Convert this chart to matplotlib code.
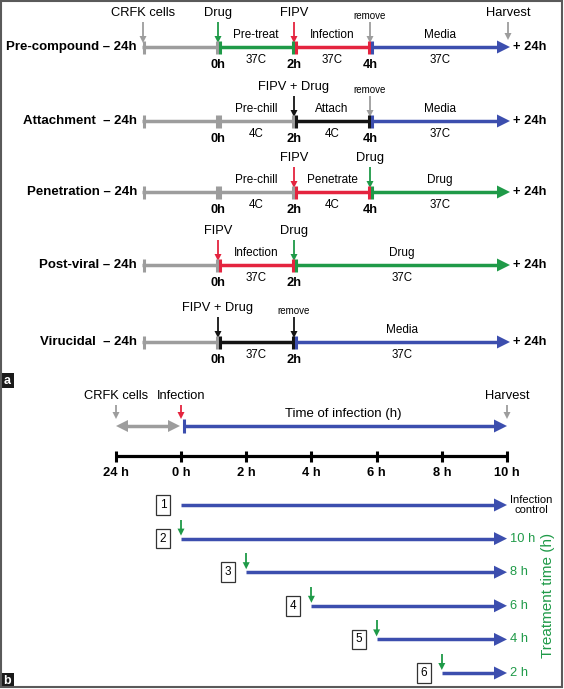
import numpy as np
import matplotlib
matplotlib.use("Agg")
import matplotlib.pyplot as plt
from matplotlib.patches import Polygon, Rectangle

plt.rcParams['font.family'] = ['Liberation Sans', 'DejaVu Sans']

# colours for each kind of step
colours = {"cells": "#9d9d9d", "chill": "#9d9d9d", "drug": "#1f9a48", "virus": "#e4243f",
           "media": "#3c4eae", "mix": "#141414"}

# ---- panel a : the five protocols ----
protocols = ["Pre-compound", "Attachment", "Penetration", "Post-viral", "Virucidal"]
# (start h, end h, kind, label above, label below)
segments = [
    [(-24, 0, "cells", "", ""), (0, 2, "drug", "Pre-treat", "37C"), (2, 4, "virus", "Infection", "37C"), (4, 24, "media", "Media", "37C")],
    [(-24, 0, "cells", "", ""), (0, 2, "chill", "Pre-chill", "4C"), (2, 4, "mix", "Attach", "4C"), (4, 24, "media", "Media", "37C")],
    [(-24, 0, "cells", "", ""), (0, 2, "chill", "Pre-chill", "4C"), (2, 4, "virus", "Penetrate", "4C"), (4, 24, "drug", "Drug", "37C")],
    [(-24, 0, "cells", "", ""), (0, 2, "virus", "Infection", "37C"), (2, 24, "drug", "Drug", "37C")],
    [(-24, 0, "cells", "", ""), (0, 2, "mix", "", "37C"), (2, 24, "media", "Media", "37C")],
]
# (time h, label, kind)
events = [
    [(-24, "CRFK cells", "cells"), (0, "Drug", "drug"), (2, "FIPV", "virus"), (4, "remove", "cells"), (24, "Harvest", "cells")],
    [(2, "FIPV + Drug", "mix"), (4, "remove", "cells")],
    [(2, "FIPV", "virus"), (4, "Drug", "drug")],
    [(0, "FIPV", "virus"), (2, "Drug", "drug")],
    [(0, "FIPV + Drug", "mix"), (2, "remove", "mix")],
]
time_marks = [[0, 2, 4], [0, 2, 4], [0, 2, 4], [0, 2], [0, 2]]

# ---- panel b : treatment time course ----
b_tick_hours = [-24, 0, 2, 4, 6, 8, 10]
b_tick_labels = ["24 h", "0 h", "2 h", "4 h", "6 h", "8 h", "10 h"]
b_events = [(-24, "CRFK cells", "cells"), (0, "Infection", "virus"), (10, "Harvest", "cells")]
treat_start = [0, 0, 2, 4, 6, 8]
treat_end = 10
treat_labels = ["Infection\ncontrol", "10 h", "8 h", "6 h", "4 h", "2 h"]
drug_added = [False, True, True, True, True, True]

fig = plt.figure(figsize=(5.64, 6.89), dpi=100)
ax = fig.add_axes([0, 0, 1, 1])
ax.set_xlim(0, 564)
ax.set_ylim(689, 0)
ax.axis("off")


def xa(t):
    return np.interp(t, [-24, 0, 2, 4, 24], [142, 218, 294, 370, 510])


def xb(t):
    return np.interp(t, [-24, 0, 10], [116, 181, 507])


def harrow(x0, x1, y, c, lw=2.5, hl=13, hw=6.5, both=False):
    a = x0 + hl - 1 if both else x0
    ax.plot([a, x1 - hl + 1], [y, y], color=c, lw=lw, solid_capstyle="butt")
    ax.add_patch(Polygon([[x1, y], [x1 - hl, y - hw], [x1 - hl, y + hw]], closed=True, color=c, lw=0))
    if both:
        ax.add_patch(Polygon([[x0, y], [x0 + hl, y - hw], [x0 + hl, y + hw]], closed=True, color=c, lw=0))


def varrow(x, y0, y1, c, lw=1.3, hl=7, hw=3.5):
    ax.plot([x, x], [y0, y1 - hl + 1], color=c, lw=lw, solid_capstyle="butt")
    ax.add_patch(Polygon([[x, y1], [x - hw, y1 - hl], [x + hw, y1 - hl]], closed=True, color=c, lw=0))


def bar(x, y, c, w=2.2, h=6.5):
    ax.plot([x, x], [y - h, y + h], color=c, lw=w, solid_capstyle="butt")


# panel a
row_y = [47, 121, 192, 265, 342]
for name, segs, evs, marks, y in zip(protocols, segments, events, time_marks, row_y):
    gap = "  " if name in ("Attachment", "Virucidal") else " "
    ax.text(137, y, name + gap + "\u2013 24h", ha="right", va="center", fontsize=9.5, fontweight="bold")
    for i, (t0, t1, kind, above, below) in enumerate(segs):
        c = colours[kind]
        x0, x1 = xa(t0), xa(t1)
        if i == len(segs) - 1:
            harrow(x0 + 2, x1, y, c)
        else:
            ax.plot([x0, x1], [y, y], color=c, lw=2.5, solid_capstyle="butt")
        # small bars at the start of each step
        if i == 0:
            bar(x0 + 1.5, y, c)
        else:
            bar(x0 - 1.5, y, colours[segs[i - 1][2]])
            bar(x0 + 1.5, y, c)
        xm = (x0 + x1) / 2
        if above:
            ax.text(xm, y - 12, above, ha="center", va="center", fontsize=8.5)
        if below:
            ax.text(xm, y + 13, below, ha="center", va="center", fontsize=8.3)
    ax.text(530, y, "+ 24h", ha="center", va="center", fontsize=9.3, fontweight="bold")
    for t in marks:
        ax.text(xa(t), y + 18, "%dh" % t, ha="center", va="center", fontsize=9.3, fontweight="bold")
    for t, lab, kind in evs:
        x = xa(t) + (1 if t == -24 else 0) - (2 if t == 24 else 0)
        yend = y - 7 if t == 24 else y - 4
        varrow(x, y - 25, yend, colours[kind])
        small = lab == "remove"
        ax.text(x, y - (31 if small else 34), lab, ha="center", va="center", fontsize=7 if small else 9.3)

# panel b
ytop = 426
for t, lab, kind in b_events:
    x = xb(t)
    varrow(x, 405, 419, colours[kind])
    ax.text(x, 396, lab, ha="center", va="center", fontsize=9.3)
harrow(xb(-24), xb(0) - 1, ytop, colours["cells"], both=True, hl=12, hw=6)
ax.plot([xb(0) + 3, xb(0) + 3], [ytop - 7, ytop + 7], color=colours["media"], lw=2.2, solid_capstyle="butt")
harrow(xb(0) + 3, xb(10), ytop, colours["media"])
ax.text(343, 414, "Time of infection (h)", ha="center", va="center", fontsize=9.5)

yaxis = 456
ax.plot([xb(-24), xb(10)], [yaxis, yaxis], color="black", lw=2.3, solid_capstyle="butt")
for t, lab in zip(b_tick_hours, b_tick_labels):
    ax.plot([xb(t), xb(t)], [yaxis - 5.5, yaxis + 5.5], color="black", lw=2.2, solid_capstyle="butt")
    ax.text(xb(t), 473, lab, ha="center", va="center", fontsize=9.3, fontweight="bold")

rows_y = np.linspace(505, 673, len(treat_start))
for k, (t0, lab, drug, y) in enumerate(zip(treat_start, treat_labels, drug_added, rows_y)):
    x0 = xb(t0)
    harrow(x0, xb(treat_end), y, colours["media"])
    ax.text(x0 - 18, y, str(k + 1), ha="center", va="center", fontsize=8.5,
            bbox=dict(boxstyle="square,pad=0.32", fc="white", ec="#333333", lw=0.9))
    if drug:
        varrow(x0, y - 19, y - 3, colours["drug"])
    if k == 0:
        ax.text(531, y, lab, ha="center", va="center", fontsize=8, linespacing=1.05)
    else:
        ax.text(510, y, lab, ha="left", va="center", fontsize=9.3, color=colours["drug"])
ax.text(548, 595, "Treatment time (h)", ha="center", va="center", rotation=90, fontsize=11,
        color=colours["drug"])

# panel letters and frame
for lab, y0 in [("a", 373), ("b", 673)]:
    ax.add_patch(Rectangle((0, y0), 14, 15, color="#1a1a1a", lw=0))
    ax.text(7, y0 + 7.5, lab, ha="center", va="center", fontsize=9, color="white", fontweight="bold")
ax.add_patch(Rectangle((1, 1), 561, 686, fill=False, ec="#5a5a5a", lw=1.5))

fig.savefig("out.png", dpi=100)
